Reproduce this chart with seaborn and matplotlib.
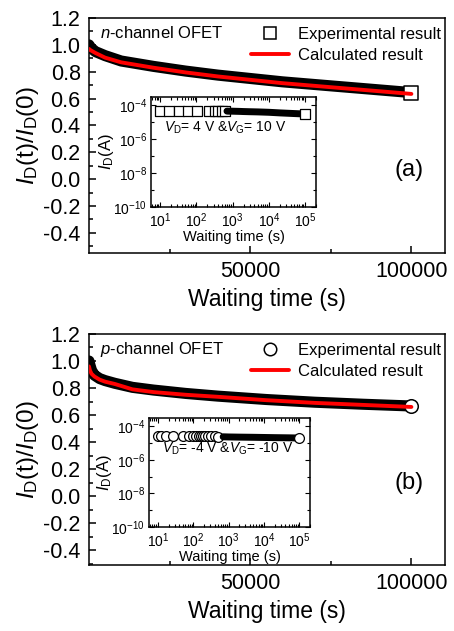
import numpy as np
import pandas as pd
import matplotlib
matplotlib.use("Agg")
import matplotlib.pyplot as plt
from matplotlib.lines import Line2D
from matplotlib.ticker import FixedLocator, MultipleLocator, NullFormatter, LogLocator
import seaborn as sns

# 1. DATA
# top panel: n-channel OFET
n_time = [0, 500, 2000, 5000, 10000, 15000, 20000, 30000, 40000,
          50000, 60000, 70000, 80000, 90000, 100000]
n_exp = [1.00, 0.98, 0.95, 0.92, 0.88, 0.86, 0.84, 0.805, 0.775,
         0.75, 0.725, 0.705, 0.685, 0.665, 0.645]
n_calc = [0.97, 0.96, 0.94, 0.905, 0.87, 0.85, 0.83, 0.795, 0.765,
          0.74, 0.715, 0.695, 0.675, 0.655, 0.635]

# bottom panel: p-channel OFET
p_time = [0, 300, 800, 1700, 3300, 5000, 8000, 13500, 20000, 30000,
          40000, 55000, 70000, 85000, 100000]
p_exp = [1.00, 0.97, 0.93, 0.895, 0.87, 0.855, 0.835, 0.805, 0.785,
         0.76, 0.74, 0.715, 0.695, 0.68, 0.667]
p_calc = [0.96, 0.93, 0.905, 0.885, 0.862, 0.847, 0.83, 0.79, 0.77,
          0.75, 0.735, 0.71, 0.69, 0.675, 0.66]

# insets: drain current vs waiting time (log-log)
n_in_time = [10, 18, 33, 60, 103, 230, 320, 400, 500, 600, 700, 800,
             900, 1000, 1200, 1500, 2000, 3000, 5000, 10000, 20000,
             50000, 100000]
n_in_id = [4.6e-5, 4.6e-5, 4.6e-5, 4.6e-5, 4.6e-5, 4.5e-5, 4.5e-5,
           4.5e-5, 4.5e-5, 4.45e-5, 4.45e-5, 4.4e-5, 4.4e-5, 4.4e-5,
           4.35e-5, 4.3e-5, 4.2e-5, 4.1e-5, 4.0e-5, 3.8e-5, 3.5e-5,
           3.2e-5, 3.0e-5]

p_in_time = [10, 12, 17, 26, 50, 74, 96, 120, 144, 167, 186, 210, 260,
             320, 400, 500, 700, 1000, 2000, 5000, 10000, 20000, 50000,
             100000]
p_in_id = [2.6e-5, 2.6e-5, 2.6e-5, 2.6e-5, 2.55e-5, 2.5e-5, 2.5e-5,
           2.5e-5, 2.5e-5, 2.45e-5, 2.45e-5, 2.45e-5, 2.4e-5, 2.4e-5,
           2.4e-5, 2.35e-5, 2.3e-5, 2.25e-5, 2.2e-5, 2.15e-5, 2.1e-5,
           2.05e-5, 2.0e-5, 1.95e-5]

dense_from = 700  # inset points merge into a solid band beyond this

# 2. STYLE
sns.set_style("ticks")
plt.rcParams["font.family"] = ["Liberation Sans", "DejaVu Sans"]
plt.rcParams["mathtext.fontset"] = "custom"
plt.rcParams["mathtext.rm"] = "Liberation Sans"
plt.rcParams["mathtext.it"] = "Liberation Sans:italic"
plt.rcParams["axes.linewidth"] = 1.1
for key in ["text.color", "axes.labelcolor", "axes.edgecolor",
            "xtick.color", "ytick.color"]:
    plt.rcParams[key] = "black"

fig = plt.figure(figsize=(4.54, 6.31), dpi=100)


def main_panel(rect, t, exp, calc, marker, ylim_low, title, tag):
    ax = fig.add_axes(rect)
    df = pd.DataFrame({"t": t, "exp": exp, "calc": calc})
    # dense experimental points drawn as a solid band
    sns.lineplot(data=df, x="t", y="exp", color="black", linewidth=8,
                 ax=ax, legend=False)
    sns.scatterplot(data=df.iloc[[-1]], x="t", y="exp", marker=marker,
                    s=95, facecolor="white", edgecolor="black",
                    linewidth=1.1, ax=ax, zorder=3)
    sns.lineplot(data=df, x="t", y="calc", color="red", linewidth=2.8,
                 ax=ax, legend=False, zorder=4)
    ax.set_xlim(0, 110400)
    ax.set_ylim(ylim_low, 1.2)
    ax.xaxis.set_major_locator(FixedLocator([50000, 100000]))
    ax.xaxis.set_minor_locator(FixedLocator([25000, 75000]))
    ax.yaxis.set_minor_locator(MultipleLocator(0.1))
    ax.set_yticks(np.round(np.arange(-0.4, 1.21, 0.2), 1))
    ax.set_yticklabels(["-0.4", "-0.2", "0.0", "0.2", "0.4", "0.6",
                        "0.8", "1.0", "1.2"])
    ax.tick_params(which="both", direction="in", width=1.1,
                   labelsize=15.5, pad=6)
    ax.tick_params(which="major", length=5)
    ax.tick_params(which="minor", length=3)
    ax.set_xlabel("Waiting time (s)", fontsize=16.5, labelpad=4)
    ax.set_ylabel(r"$I_\mathrm{D}$(t)/$I_\mathrm{D}$(0)", fontsize=17.5)
    ax.yaxis.set_label_coords(-0.135, 0.5)
    ax.text(0.03, 0.935, title, transform=ax.transAxes, fontsize=12,
            va="center", ha="left")
    ax.text(0.9, 0.355, tag, transform=ax.transAxes, fontsize=17,
            va="center", ha="center")
    handles = [
        Line2D([], [], linestyle="none", marker=marker, markersize=9,
               markerfacecolor="white", markeredgecolor="black",
               markeredgewidth=1.1),
        Line2D([], [], color="red", linewidth=2.8),
    ]
    ax.legend(handles, ["Experimental result", "Calculated result"],
              loc="upper right", bbox_to_anchor=(1.03, 1.025),
              frameon=False, fontsize=12, handlelength=2.3,
              handletextpad=0.5, labelspacing=0.35)
    return ax


def inset_panel(rect, t, cur, marker, ms, label):
    ax = fig.add_axes(rect)
    df = pd.DataFrame({"t": t, "id": cur})
    sparse = df[df["t"] < dense_from]
    dense = df[df["t"] >= dense_from]
    sns.scatterplot(data=sparse, x="t", y="id", marker=marker, s=ms,
                    facecolor="white", edgecolor="black", linewidth=0.9,
                    ax=ax, zorder=2)
    sns.lineplot(data=dense, x="t", y="id", color="black",
                 linewidth=5, ax=ax, legend=False, zorder=3)
    sns.scatterplot(data=df.iloc[[-1]], x="t", y="id", marker=marker,
                    s=ms, facecolor="white", edgecolor="black",
                    linewidth=0.9, ax=ax, zorder=4)
    ax.set_xscale("log")
    ax.set_yscale("log")
    ax.set_xlim(5.6, 2.0e5)
    ax.set_ylim(1e-10, 3e-4)
    ax.xaxis.set_major_locator(FixedLocator([1e1, 1e2, 1e3, 1e4, 1e5]))
    ax.xaxis.set_minor_locator(LogLocator(base=10, subs=np.arange(2, 10),
                                          numticks=20))
    ax.xaxis.set_minor_formatter(NullFormatter())
    ax.yaxis.set_major_locator(FixedLocator([1e-10, 1e-8, 1e-6, 1e-4]))
    ax.yaxis.set_minor_locator(FixedLocator([1e-9, 1e-7, 1e-5]))
    ax.yaxis.set_minor_formatter(NullFormatter())
    ax.tick_params(which="both", direction="in", width=0.8,
                   labelsize=10, pad=3, right=True, top=True)
    ax.tick_params(which="major", length=3.5)
    ax.tick_params(which="minor", length=2)
    ax.set_xlabel("Waiting time (s)", fontsize=10.5, labelpad=0)
    ax.set_ylabel(r"$I_\mathrm{D}$(A)", fontsize=12, labelpad=-2)
    ax.text(0.08, 0.72, label, transform=ax.transAxes, fontsize=10,
            va="center", ha="left")
    return ax


main_panel([0.196, 0.599, 0.784, 0.3724], n_time, n_exp, n_calc, "s",
           -0.55, r"$n$-channel OFET", "(a)")
inset_panel([0.3326, 0.6719, 0.3634, 0.1743], n_in_time, n_in_id, "s", 42,
            r"$V_\mathrm{D}$= 4 V &$V_\mathrm{G}$= 10 V")

main_panel([0.196, 0.1046, 0.784, 0.3661], p_time, p_exp, p_calc, "o",
           -0.51, r"$p$-channel OFET", "(b)")
inset_panel([0.3282, 0.1648, 0.3546, 0.1727], p_in_time, p_in_id, "o", 50,
            r"$V_\mathrm{D}$= -4 V &$V_\mathrm{G}$= -10 V")

fig.savefig("out.png", dpi=100)
